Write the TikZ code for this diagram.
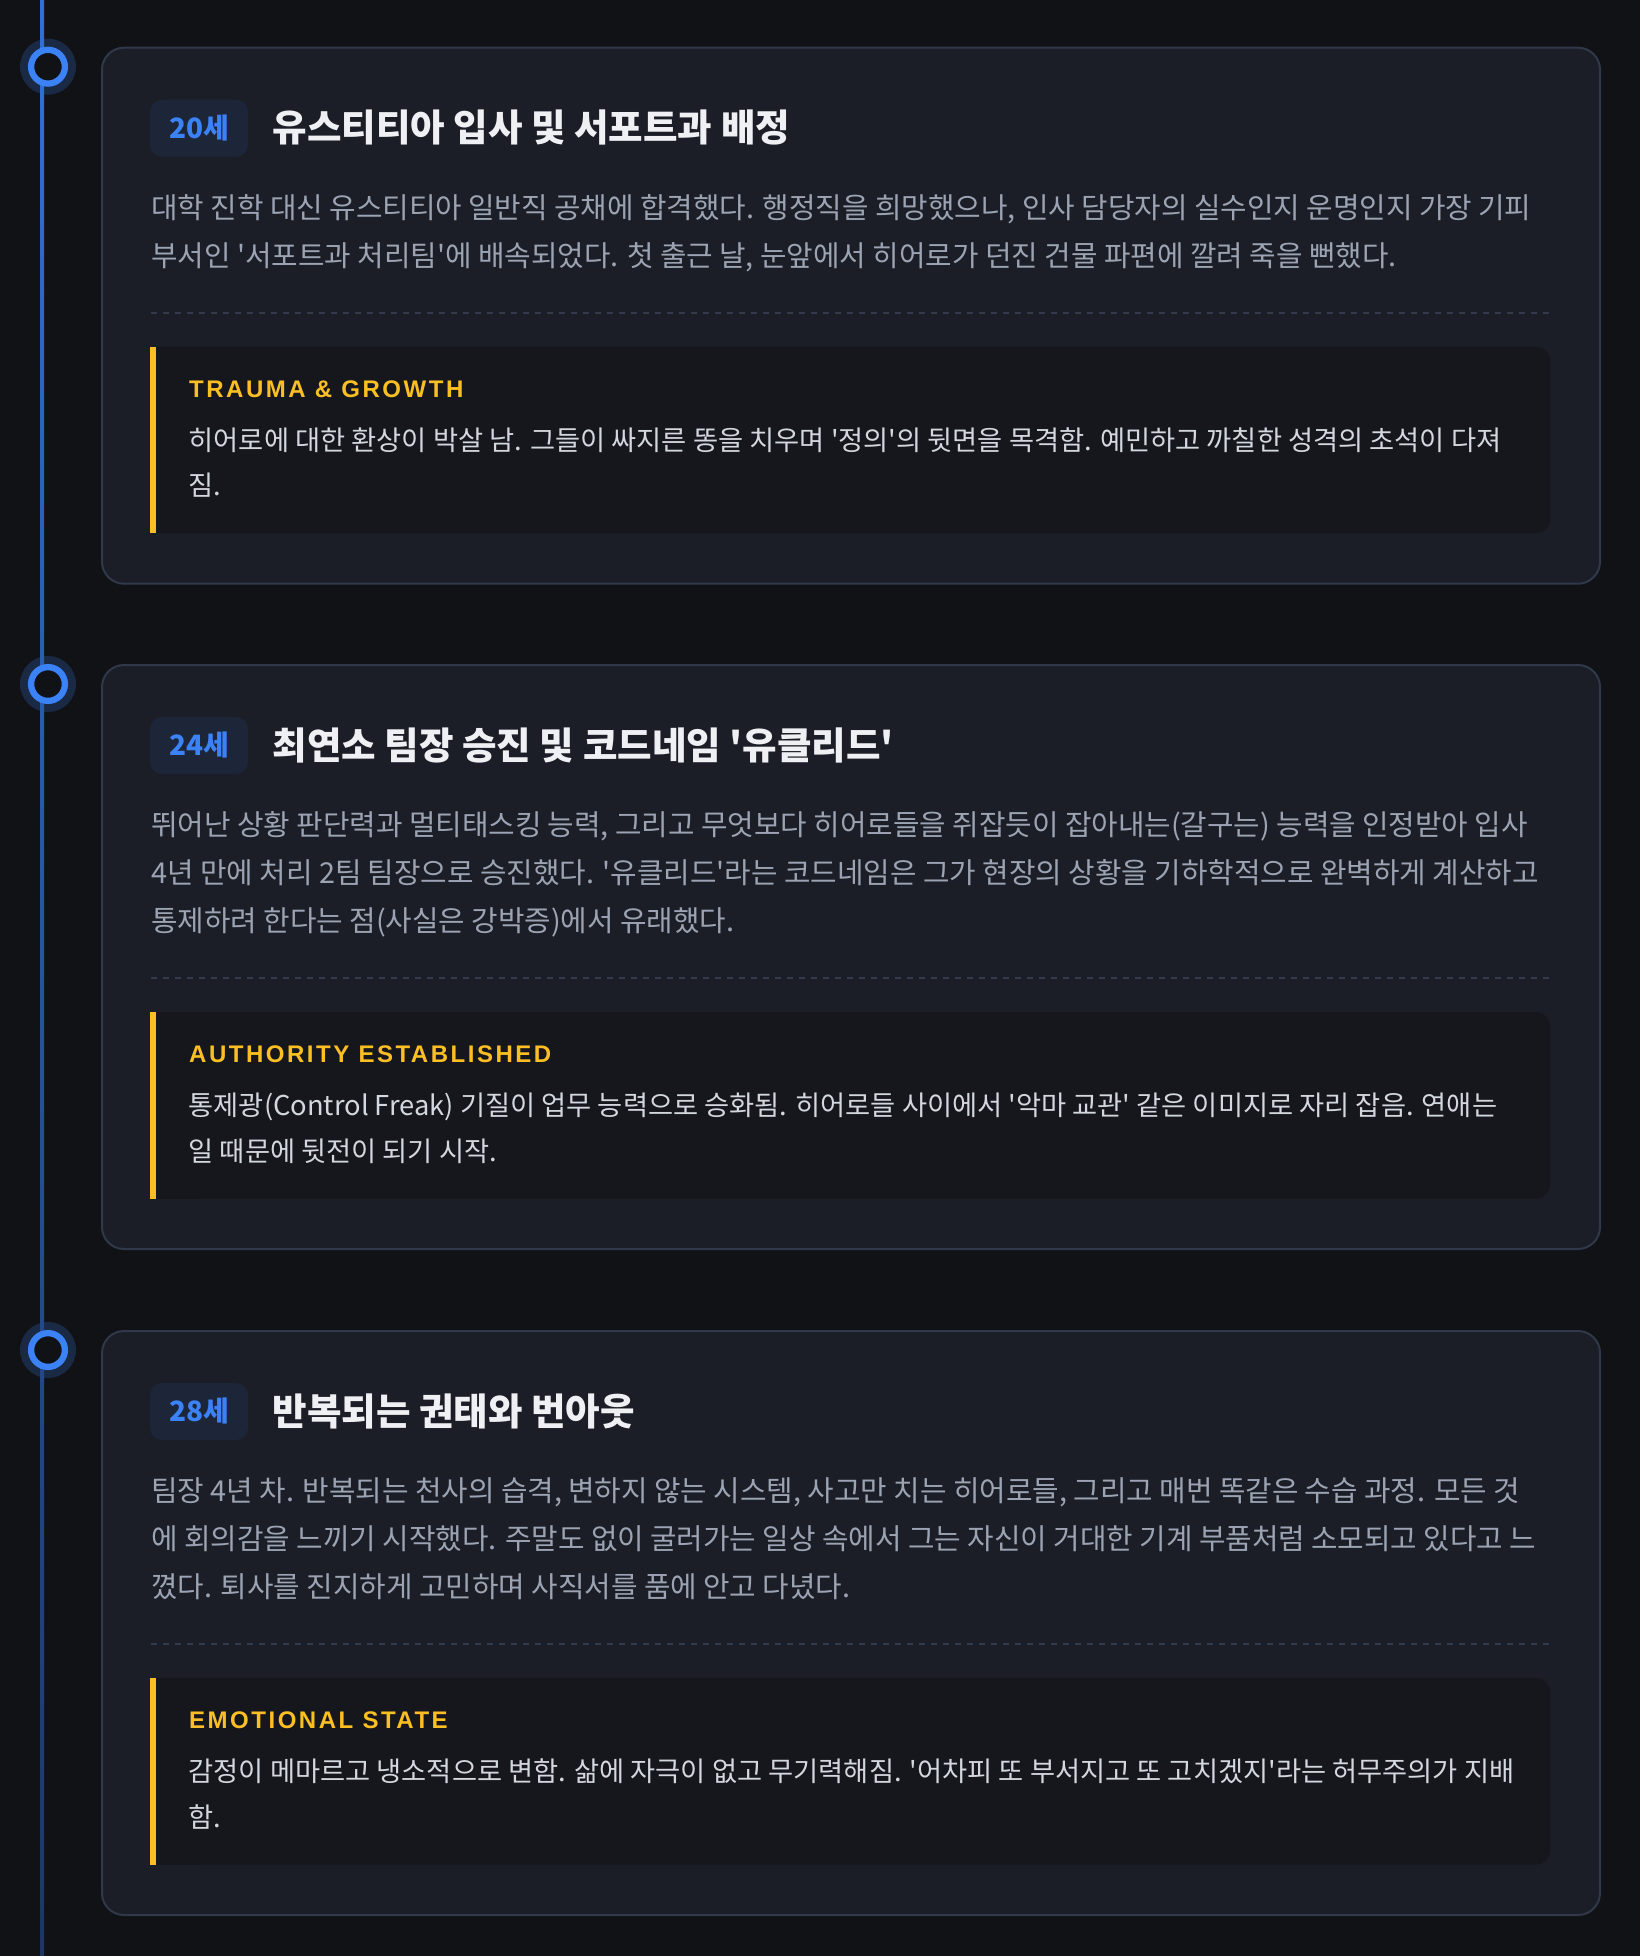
\documentclass[tikz,border=0pt]{standalone}
\usepackage{fontspec}
\setmainfont{Noto Sans CJK KR}[Ligatures=TeXOff]
\newfontfamily\lblfont{Liberation Sans}[LetterSpace=10.5]
\definecolor{bgc}{HTML}{101216}
\definecolor{cardfill}{HTML}{1B1E26}
\definecolor{cardborder}{HTML}{30384A}
\definecolor{callfill}{HTML}{15171C}
\definecolor{badgefill}{HTML}{1D2538}
\definecolor{accent}{HTML}{3B82F6}
\definecolor{glowc}{HTML}{1A2944}
\definecolor{gold}{HTML}{FBBF24}
\definecolor{titlec}{HTML}{EEF0F3}
\definecolor{bodyc}{HTML}{9CA4B3}
\definecolor{callc}{HTML}{D3D7DE}
\definecolor{dashc}{HTML}{333B4B}
\definecolor{linetop}{HTML}{3170DA}
\definecolor{linebot}{HTML}{1E3763}
\tikzset{
  cardbox/.style={draw=cardborder, line width=2pt, fill=cardfill, rounded corners=22pt,
    minimum width=1498pt, inner sep=0pt, anchor=north west},
  badgebox/.style={fill=badgefill, rounded corners=12pt, minimum width=98pt,
    minimum height=57pt, inner sep=0pt},
  badgetext/.style={text=accent, font=\fontsize{28}{30}\selectfont\bfseries, anchor=base, inner sep=0pt},
  titletext/.style={text=titlec, font=\fontsize{37.5}{44}\selectfont\bfseries, anchor=base west, inner sep=0pt},
  bodytext/.style={text=bodyc, font=\fontsize{28.8}{34}\selectfont, anchor=base west, inner sep=0pt},
  lbltext/.style={text=gold, font=\lblfont\fontsize{24}{28}\selectfont\bfseries, anchor=base west, inner sep=0pt},
  calltext/.style={text=callc, font=\fontsize{27.3}{32}\selectfont, anchor=base west, inner sep=0pt},
  divider/.style={draw=dashc, line width=2pt, dash pattern=on 6pt off 6pt},
  glowdot/.style={fill=glowc},
  ringdot/.style={draw=accent, line width=6.3pt, fill=bgc},
}
\begin{document}
\begin{tikzpicture}[x=1pt,y=-1pt]
\useasboundingbox (0,0) rectangle (1640,1956);
\fill[bgc] (0,0) rectangle (1640,1956);
% glows
\fill[glowdot] (48,66.7) circle[radius=28pt];
\fill[glowdot] (48,684) circle[radius=28pt];
\fill[glowdot] (48,1350) circle[radius=28pt];
% timeline
\shade[top color=linetop, bottom color=linebot] (40,0) rectangle (44,1956);
% rings
\node[ringdot, circle, minimum size=33.8pt, inner sep=0pt] (d1) at (48,66.7) {};
\node[ringdot, circle, minimum size=33.8pt, inner sep=0pt] (d2) at (48,684) {};
\node[ringdot, circle, minimum size=33.8pt, inner sep=0pt] (d3) at (48,1350) {};

% ---------------- card 1 ----------------
\begin{scope}[shift={(0,46.7)}]
\node[cardbox, minimum height=536pt] (c1) at (101,0) {};
\node[badgebox] (k1) at (199,81.5) {};
\node[badgetext] (k1t) at (199,91.5) {20세};
\node[titletext] (t1) at (272.5,95.3) {유스티티아 입사 및 서포트과 배정};
\node[bodytext] (b1a) at (151,171.9) {대학 진학 대신 유스티티아 일반직 공채에 합격했다. 행정직을 희망했으나, 인사 담당자의 실수인지 운명인지 가장 기피};
\node[bodytext] (b1b) at (151,219.9) {부서인 '서포트과 처리팀'에 배속되었다. 첫 출근 날, 눈앞에서 히어로가 던진 건물 파편에 깔려 죽을 뻔했다.};
\draw[divider] (151,266) -- (1549,266);
\fill[callfill, rounded corners=14pt] (150,300) rectangle (1550,486.6);
\fill[callfill] (150,300) rectangle (200,486.6);
\fill[gold] (150,300) rectangle (155.7,486.6);
\node[lbltext] (l1) at (189,350.6) {TRAUMA \& GROWTH};
\node[calltext] (q1a) at (188.5,403.7) {히어로에 대한 환상이 박살 남. 그들이 싸지른 똥을 치우며 '정의'의 뒷면을 목격함. 예민하고 까칠한 성격의 초석이 다져};
\node[calltext] (q1b) at (188.5,449.2) {짐.};
\end{scope}

% ---------------- card 2 ----------------
\begin{scope}[shift={(0,664)}]
\node[cardbox, minimum height=584pt] (c2) at (101,0) {};
\node[badgebox] (k2) at (199,81.5) {};
\node[badgetext] (k2t) at (199,91.5) {24세};
\node[titletext] (t2) at (272.5,95.3) {최연소 팀장 승진 및 코드네임 '유클리드'};
\node[bodytext] (b2a) at (151,171.9) {뛰어난 상황 판단력과 멀티태스킹 능력, 그리고 무엇보다 히어로들을 쥐잡듯이 잡아내는(갈구는) 능력을 인정받아 입사};
\node[bodytext] (b2b) at (151,219.9) {4년 만에 처리 2팀 팀장으로 승진했다. '유클리드'라는 코드네임은 그가 현장의 상황을 기하학적으로 완벽하게 계산하고};
\node[bodytext] (b2c) at (151,267.9) {통제하려 한다는 점(사실은 강박증)에서 유래했다.};
\draw[divider] (151,314) -- (1549,314);
\fill[callfill, rounded corners=14pt] (150,348) rectangle (1550,534.6);
\fill[callfill] (150,348) rectangle (200,534.6);
\fill[gold] (150,348) rectangle (155.7,534.6);
\node[lbltext] (l2) at (189,398.6) {AUTHORITY ESTABLISHED};
\node[calltext] (q2a) at (188.5,451.7) {통제광(Control Freak) 기질이 업무 능력으로 승화됨. 히어로들 사이에서 '악마 교관' 같은 이미지로 자리 잡음. 연애는};
\node[calltext] (q2b) at (188.5,497.2) {일 때문에 뒷전이 되기 시작.};
\end{scope}

% ---------------- card 3 ----------------
\begin{scope}[shift={(0,1330)}]
\node[cardbox, minimum height=584pt] (c3) at (101,0) {};
\node[badgebox] (k3) at (199,81.5) {};
\node[badgetext] (k3t) at (199,91.5) {28세};
\node[titletext] (t3) at (272.5,95.3) {반복되는 권태와 번아웃};
\node[bodytext] (b3a) at (151,171.9) {팀장 4년 차. 반복되는 천사의 습격, 변하지 않는 시스템, 사고만 치는 히어로들, 그리고 매번 똑같은 수습 과정. 모든 것};
\node[bodytext] (b3b) at (151,219.9) {에 회의감을 느끼기 시작했다. 주말도 없이 굴러가는 일상 속에서 그는 자신이 거대한 기계 부품처럼 소모되고 있다고 느};
\node[bodytext] (b3c) at (151,267.9) {꼈다. 퇴사를 진지하게 고민하며 사직서를 품에 안고 다녔다.};
\draw[divider] (151,314) -- (1549,314);
\fill[callfill, rounded corners=14pt] (150,348) rectangle (1550,534.6);
\fill[callfill] (150,348) rectangle (200,534.6);
\fill[gold] (150,348) rectangle (155.7,534.6);
\node[lbltext] (l3) at (189,398.6) {EMOTIONAL STATE};
\node[calltext] (q3a) at (188.5,451.7) {감정이 메마르고 냉소적으로 변함. 삶에 자극이 없고 무기력해짐. '어차피 또 부서지고 또 고치겠지'라는 허무주의가 지배};
\node[calltext] (q3b) at (188.5,497.2) {함.};
\end{scope}
\end{tikzpicture}
\end{document}
